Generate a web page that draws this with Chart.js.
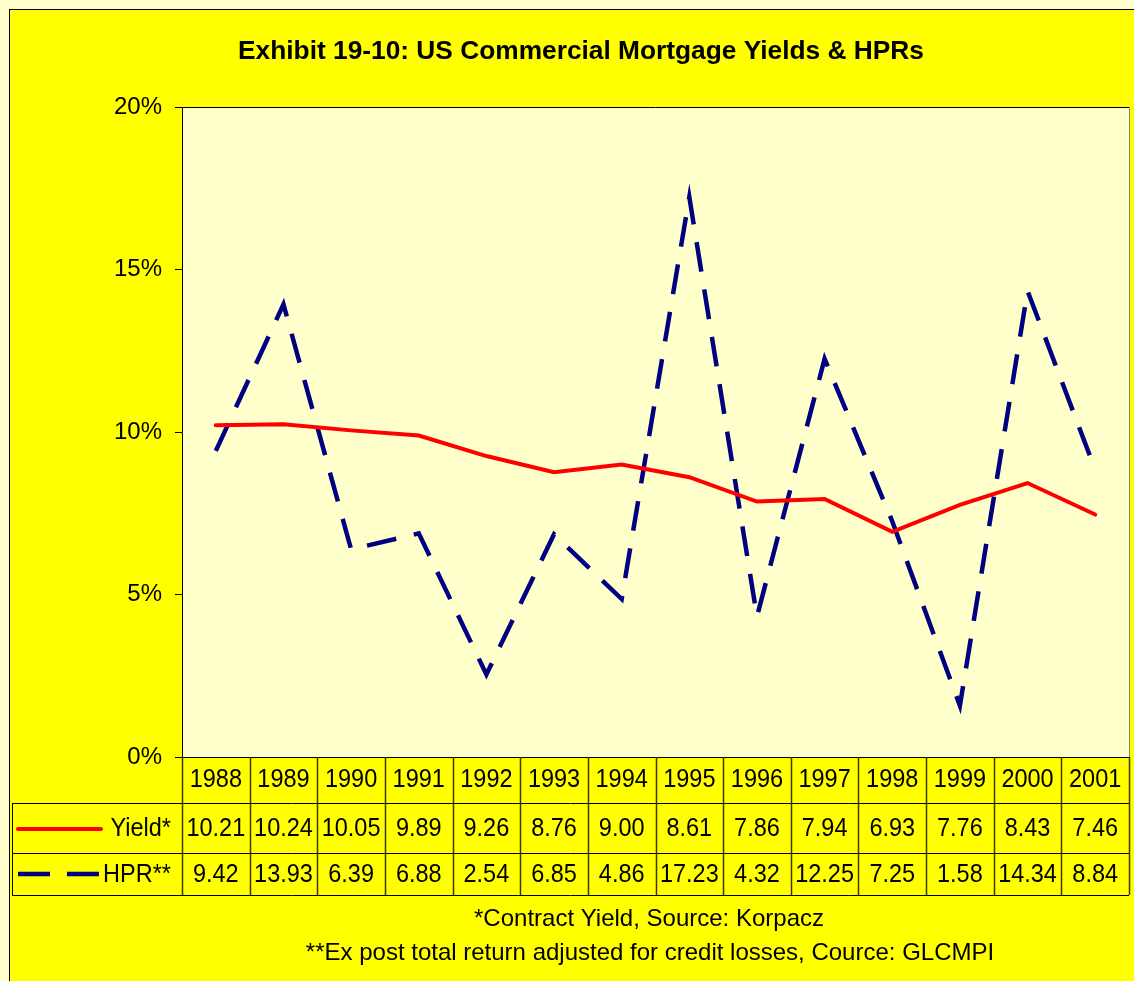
<!DOCTYPE html>
<html>
<head>
<meta charset="utf-8">
<script src="https://cdn.jsdelivr.net/npm/chart.js@4.4.1/dist/chart.umd.min.js"></script>
<style>
html,body{margin:0;padding:0;background:#FFFFCC;}
canvas{display:block;}
</style>
</head>
<body>
<canvas id="c" width="1134" height="981"></canvas>
<script>
const years = ['1988','1989','1990','1991','1992','1993','1994','1995','1996','1997','1998','1999','2000','2001'];
const yieldValues = [10.21,10.24,10.05,9.89,9.26,8.76,9.00,8.61,7.86,7.94,6.93,7.76,8.43,7.46];
const hprValues = [9.42,13.93,6.39,6.88,2.54,6.85,4.86,17.23,4.32,12.25,7.25,1.58,14.34,8.84];
const yTicks = [0,5,10,15,20];
const titleText = 'Exhibit 19-10: US Commercial Mortgage Yields & HPRs';
const seriesNames = ['Yield*','HPR**'];
const footnotes = ['*Contract Yield, Source: Korpacz','**Ex post total return adjusted for credit losses, Cource: GLCMPI'];

const FONT = '"Liberation Sans", Arial, sans-serif';

function stretchedText(ctx, text, x, y, sy) {
  ctx.save();
  ctx.translate(x, y);
  ctx.scale(1, sy);
  ctx.fillText(text, 0, 0);
  ctx.restore();
}

const decor = {
  id: 'decor',
  beforeDraw(chart) {
    const ctx = chart.ctx, a = chart.chartArea;
    ctx.save();
    ctx.fillStyle = '#FFFFCC';
    ctx.fillRect(0,0,chart.width,chart.height);
    ctx.fillStyle = '#FFFF00';
    ctx.fillRect(9.5,9.5,chart.width+10,chart.height+10);
    ctx.strokeStyle = '#000';
    ctx.lineWidth = 1;
    ctx.strokeRect(9.5,9.5,chart.width+10,chart.height+10);
    ctx.fillStyle = '#FFFFCC';
    ctx.fillRect(a.left,a.top,a.right-a.left,a.bottom-a.top);
    ctx.strokeStyle = '#000';
    ctx.beginPath();
    ctx.moveTo(a.left,a.top+0.5); ctx.lineTo(a.right,a.top+0.5);
    ctx.stroke();
    ctx.strokeStyle = '#808080';
    ctx.beginPath();
    ctx.moveTo(a.right+0.5,a.top); ctx.lineTo(a.right+0.5,a.bottom);
    ctx.stroke();
    ctx.restore();
  },
  afterDraw(chart) {
    const ctx = chart.ctx, a = chart.chartArea, xs = chart.scales.x;
    const n = years.length;
    const colW = (a.right - a.left) / n;
    const rowTop = a.bottom, r1 = a.bottom + 46, r2 = a.bottom + 96, r3 = a.bottom + 138;
    const legLeft = 12;
    ctx.save();
    // title
    ctx.fillStyle = '#000';
    ctx.font = 'bold 26.3px ' + FONT;
    ctx.textAlign = 'center';
    ctx.textBaseline = 'middle';
    ctx.fillText(titleText, 581, 52);
    // table lines
    ctx.strokeStyle = '#000';
    ctx.lineWidth = 1;
    ctx.beginPath();
    ctx.moveTo(legLeft, r1+0.5); ctx.lineTo(a.right, r1+0.5);
    ctx.moveTo(legLeft, r2+0.5); ctx.lineTo(a.right, r2+0.5);
    ctx.moveTo(legLeft, r3+0.5); ctx.lineTo(a.right, r3+0.5);
    ctx.moveTo(legLeft+0.5, r1); ctx.lineTo(legLeft+0.5, r3);
    ctx.moveTo(a.left, a.bottom+0.5); ctx.lineTo(a.right, a.bottom+0.5);
    ctx.stroke();
    ctx.strokeStyle = '#3a3a00';
    ctx.lineWidth = 1.5;
    ctx.beginPath();
    for (let i = 0; i <= n; i++) {
      const x = Math.round(a.left + i*colW) + 0.5;
      ctx.moveTo(x, rowTop); ctx.lineTo(x, r3);
    }
    ctx.stroke();
    // cells
    ctx.fillStyle = '#000';
    ctx.font = '23.5px ' + FONT;
    ctx.textAlign = 'center';
    ctx.textBaseline = 'middle';
    for (let i = 0; i < n; i++) {
      const cx = xs.getPixelForValue(i);
      stretchedText(ctx, years[i], cx, (rowTop+r1)/2, 1.06);
      stretchedText(ctx, yieldValues[i].toFixed(2), cx, (r1+r2)/2 + 1, 1.06);
      stretchedText(ctx, hprValues[i].toFixed(2), cx, (r2+r3)/2 + 1, 1.06);
    }
    // legend keys
    ctx.textAlign = 'right';
    stretchedText(ctx, seriesNames[0], 171, (r1+r2)/2 + 1, 1.06);
    stretchedText(ctx, seriesNames[1], 171, (r2+r3)/2 + 1, 1.06);
    ctx.lineCap = 'round';
    ctx.strokeStyle = '#FF0000';
    ctx.lineWidth = 4;
    ctx.beginPath();
    ctx.moveTo(18, (r1+r2)/2 + 1); ctx.lineTo(101, (r1+r2)/2 + 1);
    ctx.stroke();
    ctx.lineCap = 'butt';
    ctx.strokeStyle = '#000080';
    ctx.lineWidth = 4.5;
    ctx.beginPath();
    ctx.moveTo(18, (r2+r3)/2); ctx.lineTo(50, (r2+r3)/2);
    ctx.moveTo(67, (r2+r3)/2); ctx.lineTo(99, (r2+r3)/2);
    ctx.stroke();
    // footnotes
    ctx.fillStyle = '#000';
    ctx.font = '24px ' + FONT;
    ctx.textAlign = 'center';
    ctx.fillText(footnotes[0], 649, 919);
    ctx.fillText(footnotes[1], 650, 953);
    ctx.restore();
  }
};

new Chart(document.getElementById('c'), {
  type: 'line',
  data: {
    labels: years,
    datasets: [
      {label: seriesNames[0], data: yieldValues, borderColor: '#FF0000', borderWidth: 4, pointRadius: 0, tension: 0, fill: false, borderCapStyle: 'round'},
      {label: seriesNames[1], data: hprValues, borderColor: '#000080', borderWidth: 4.5, borderDash: [30, 18], pointRadius: 0, tension: 0, fill: false, borderCapStyle: 'butt'}
    ]
  },
  options: {
    responsive: false,
    devicePixelRatio: 1,
    animation: false,
    layout: {padding: {top: 107, bottom: 224, left: 0, right: 5}},
    plugins: {legend: {display: false}, tooltip: {enabled: false}, title: {display: false}},
    scales: {
      x: {display: false, offset: true},
      y: {
        min: 0, max: 20,
        afterFit: s => { s.width = 182; },
        afterBuildTicks: s => { s.ticks = yTicks.map(v => ({value: v})); },
        ticks: {color: '#000', font: {family: FONT, size: 24}, padding: 13, callback: v => v + '%'},
        grid: {drawOnChartArea: false, drawTicks: true, tickLength: 7, color: '#000'},
        border: {display: true, color: '#000', width: 1}
      }
    }
  },
  plugins: [decor]
});
</script>
</body>
</html>
